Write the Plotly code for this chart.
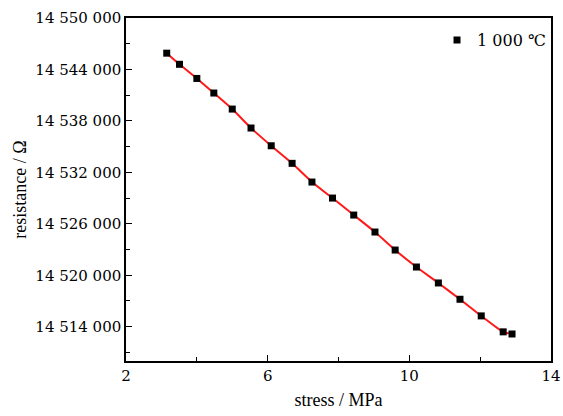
import plotly.graph_objects as go

stress = [3.15, 3.51, 4.0, 4.48, 5.0, 5.53, 6.1, 6.69, 7.25, 7.83, 8.43, 9.03, 9.6, 10.2, 10.82, 11.43, 12.03, 12.65, 12.9]
resistance = [14545900, 14544600, 14542950, 14541250, 14539380, 14537170, 14535100, 14533050, 14530870, 14529000,
              14527020, 14525040, 14522940, 14520960, 14519100, 14517200, 14515260, 14513400, 14513150]

x_tickvals = [2, 6, 10, 14]
x_ticktext = ["2", "6", "10", "14"]
x_minor = [4, 8, 12]
y_tickvals = [14514000, 14520000, 14526000, 14532000, 14538000, 14544000, 14550000]
y_ticktext = ["14 514 000", "14 520 000", "14 526 000", "14 532 000", "14 538 000", "14 544 000", "14 550 000"]
y_minor = [14511000, 14517000, 14523000, 14529000, 14535000, 14541000, 14547000]

font = "Liberation Serif"
tick_font = "DejaVu Serif"
black = "#000000"

layout = go.Layout(
    width=563, height=416,
    margin=dict(l=126, r=12, t=18, b=55),
    plot_bgcolor="white", paper_bgcolor="white",
    font=dict(family=font, size=18, color=black),
    showlegend=True,
    legend=dict(x=1.0, y=0.985, xanchor="right", yanchor="top", bgcolor="rgba(0,0,0,0)",
                font=dict(family=tick_font, size=16, color=black), itemwidth=30),
    xaxis=dict(
        range=[2, 14], tickmode="array", tickvals=x_tickvals, ticktext=x_ticktext,
        ticks="inside", ticklen=6, tickwidth=1.2, tickcolor=black,
        minor=dict(tickvals=x_minor, ticks="inside", ticklen=4, tickcolor=black, tickwidth=1.2),
        showline=True, linecolor=black, linewidth=1.5, mirror=True,
        showgrid=False, zeroline=False, automargin=False,
        title=dict(text="stress / MPa", font=dict(family=font, size=18, color=black), standoff=10),
        tickfont=dict(family=tick_font, size=15, color=black),
    ),
    yaxis=dict(
        range=[14510000, 14550000], tickmode="array", tickvals=y_tickvals, ticktext=y_ticktext,
        ticks="inside", ticklen=6, tickwidth=1.2, tickcolor=black,
        minor=dict(tickvals=y_minor, ticks="inside", ticklen=4, tickcolor=black, tickwidth=1.2),
        showline=True, linecolor=black, linewidth=1.5, mirror=True,
        showgrid=False, zeroline=False, automargin=False,
        title=dict(text="resistance / Ω", font=dict(family=font, size=18, color=black), standoff=4),
        tickfont=dict(family=tick_font, size=15, color=black),
    ),
)

fig = go.Figure(layout=layout)
fig.add_trace(go.Scatter(x=stress, y=resistance, mode="lines", line=dict(color="#ff1a1a", width=2, shape="spline", smoothing=0.6),
                         showlegend=False, hoverinfo="skip"))
fig.add_trace(go.Scatter(x=stress, y=resistance, mode="markers", name="1 000 ℃",
                         marker=dict(symbol="square", size=7, color=black)))

fig.write_html("out.html")
